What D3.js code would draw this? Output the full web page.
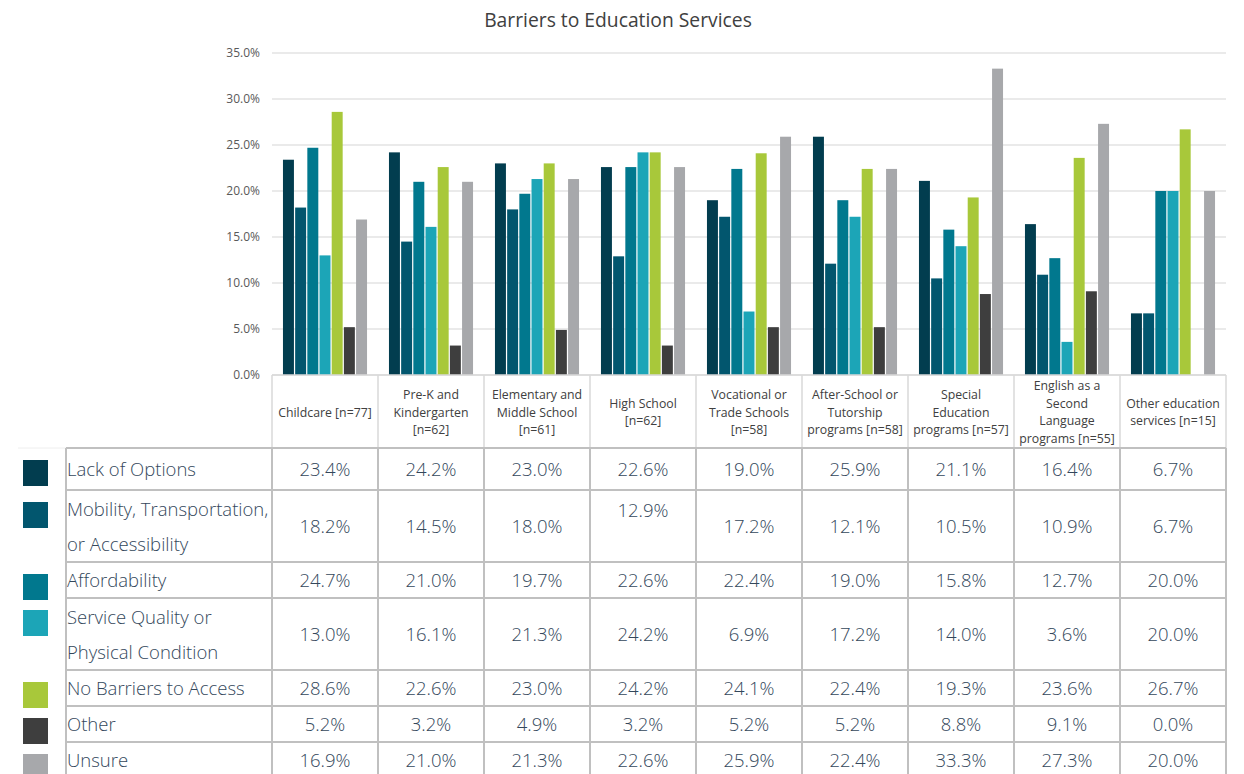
<!DOCTYPE html>
<html>
<head>
<meta charset="utf-8">
<script src="https://cdn.jsdelivr.net/npm/d3@7"></script>
<style>
  html, body { margin: 0; padding: 0; background: #ffffff; }
  svg { display: block; font-family: "Open Sans", "Noto Sans", sans-serif; }
</style>
</head>
<body>
<svg id="chart" width="1244" height="774"></svg>
<script>
const title = "Barriers to Education Services";
const categories = [
  "Childcare [n=77]",
  "Pre-K and|Kindergarten|[n=62]",
  "Elementary and|Middle School|[n=61]",
  "High School|[n=62]",
  "Vocational or|Trade Schools|[n=58]",
  "After-School or|Tutorship|programs [n=58]",
  "Special|Education|programs [n=57]",
  "English as a|Second|Language|programs [n=55]",
  "Other education|services [n=15]"
];
const seriesNames = [
  "Lack of Options",
  "Mobility, Transportation,|or Accessibility",
  "Affordability",
  "Service Quality or|Physical Condition",
  "No Barriers to Access",
  "Other",
  "Unsure"
];
const seriesColors = ["#023d4f", "#02566e", "#01788e", "#1ca5b7", "#a8c83a", "#3e3e3e", "#a7a8ab"];
const lackOfOptions   = [23.4, 24.2, 23.0, 22.6, 19.0, 25.9, 21.1, 16.4, 6.7];
const mobility        = [18.2, 14.5, 18.0, 12.9, 17.2, 12.1, 10.5, 10.9, 6.7];
const affordability   = [24.7, 21.0, 19.7, 22.6, 22.4, 19.0, 15.8, 12.7, 20.0];
const serviceQuality  = [13.0, 16.1, 21.3, 24.2, 6.9, 17.2, 14.0, 3.6, 20.0];
const noBarriers      = [28.6, 22.6, 23.0, 24.2, 24.1, 22.4, 19.3, 23.6, 26.7];
const other           = [5.2, 3.2, 4.9, 3.2, 5.2, 5.2, 8.8, 9.1, 0.0];
const unsure          = [16.9, 21.0, 21.3, 22.6, 25.9, 22.4, 33.3, 27.3, 20.0];
const yTicks = [0, 5, 10, 15, 20, 25, 30, 35];

const seriesValues = [lackOfOptions, mobility, affordability, serviceQuality, noBarriers, other, unsure];

const svg = d3.select("#chart");
const plotLeft = 272, plotRight = 1226, plotTop = 53, plotBottom = 375;

const x0 = d3.scaleBand().domain(d3.range(categories.length)).range([plotLeft, plotRight]).paddingInner(0).paddingOuter(0);
const x1 = d3.scaleBand().domain(d3.range(seriesNames.length)).range([0, x0.bandwidth()]).paddingInner(0.1).paddingOuter(0.9);
const y = d3.scaleLinear().domain([0, 35]).range([plotBottom, plotTop]);

// title
svg.append("text").attr("x", 618).attr("y", 27).attr("text-anchor", "middle")
  .attr("font-size", 19.3).attr("fill", "#404040").text(title);

// gridlines
svg.append("g").selectAll("line").data(yTicks).join("line")
  .attr("x1", plotLeft).attr("x2", plotRight)
  .attr("y1", d => y(d)).attr("y2", d => y(d))
  .attr("stroke", "#e3e3e3").attr("stroke-width", 1.5);

// y axis labels
const yAxis = d3.axisLeft(y).tickValues(yTicks).tickFormat(d => d.toFixed(1) + "%").tickSize(0).tickPadding(0);
const yg = svg.append("g").attr("transform", `translate(260,0)`).call(yAxis);
yg.select(".domain").remove();
yg.selectAll("text").attr("font-size", 12).attr("fill", "#595959").attr("font-family", "'Open Sans', sans-serif");

// bars
const bars = [];
seriesValues.forEach((vals, s) => vals.forEach((v, c) => bars.push({s, c, v})));
svg.append("g").selectAll("rect").data(bars.filter(d => d.v > 0)).join("rect")
  .attr("x", d => x0(d.c) + x1(d.s))
  .attr("width", x1.bandwidth())
  .attr("y", d => y(d.v))
  .attr("height", d => y(0) - y(d.v))
  .attr("fill", d => seriesColors[d.s]);

// header cells
const headerTop = 375, headerBottom = 448;
const hg = svg.append("g");
hg.append("line").attr("x1", plotLeft).attr("x2", plotRight).attr("y1", headerTop).attr("y2", headerTop)
  .attr("stroke", "#d9d9d9").attr("stroke-width", 1.5);
hg.selectAll("line.v").data(d3.range(categories.length + 1)).join("line").attr("class", "v")
  .attr("x1", d => d < categories.length ? x0(d) : plotRight)
  .attr("x2", d => d < categories.length ? x0(d) : plotRight)
  .attr("y1", headerTop).attr("y2", headerBottom)
  .attr("stroke", "#d9d9d9").attr("stroke-width", 1.5);
categories.forEach((cat, c) => {
  const lines = cat.split("|");
  const lh = 17.7;
  const cy = 412;
  const t = hg.append("text").attr("text-anchor", "middle").attr("font-size", 12.3).attr("fill", "#404040");
  lines.forEach((ln, i) => {
    t.append("tspan").attr("x", x0(c) + x0.bandwidth() / 2)
      .attr("y", cy + (i - (lines.length - 1) / 2) * lh + 4.5).text(ln);
  });
});

// data table
const rowBounds = [448, 490, 562, 598, 670, 706, 742, 778];
const tg = svg.append("g");
const gridColor = "#c0c0c0";
tg.append("line").attr("x1", 18).attr("x2", 66).attr("y1", 448).attr("y2", 448).attr("stroke", "#eeeeee").attr("stroke-width", 1);
rowBounds.forEach((yy, i) => {
  tg.append("line").attr("x1", 66).attr("x2", plotRight).attr("y1", yy).attr("y2", yy)
    .attr("stroke", gridColor).attr("stroke-width", 2);
});
const colXs = [66].concat(d3.range(categories.length).map(c => x0(c)), [plotRight]);
colXs.forEach(xx => {
  tg.append("line").attr("x1", xx).attr("x2", xx).attr("y1", 448).attr("y2", 778)
    .attr("stroke", gridColor).attr("stroke-width", 2);
});
const textColor = "#33475b";
seriesNames.forEach((name, s) => {
  const top = rowBounds[s], bottom = rowBounds[s + 1];
  const mid = (top + bottom) / 2;
  tg.append("rect").attr("x", 23).attr("y", top + 12).attr("width", 25).attr("height", 26)
    .attr("fill", seriesColors[s]);
  const lines = name.split("|");
  lines.forEach((ln, i) => {
    tg.append("text").attr("x", 67).attr("y", mid + (i - (lines.length - 1) / 2) * 35 + 7)
      .attr("font-size", 18.5).attr("font-weight", 300).attr("fill", textColor).text(ln);
  });
  seriesValues[s].forEach((v, c) => {
    let cy = mid;
    if (s === 1 && c === 3) cy = top + 20;
    tg.append("text").attr("x", x0(c) + x0.bandwidth() / 2).attr("y", cy + 7)
      .attr("text-anchor", "middle").attr("font-size", 18.5).attr("font-weight", 300)
      .attr("fill", textColor).text(v.toFixed(1) + "%");
  });
});
</script>
</body>
</html>
